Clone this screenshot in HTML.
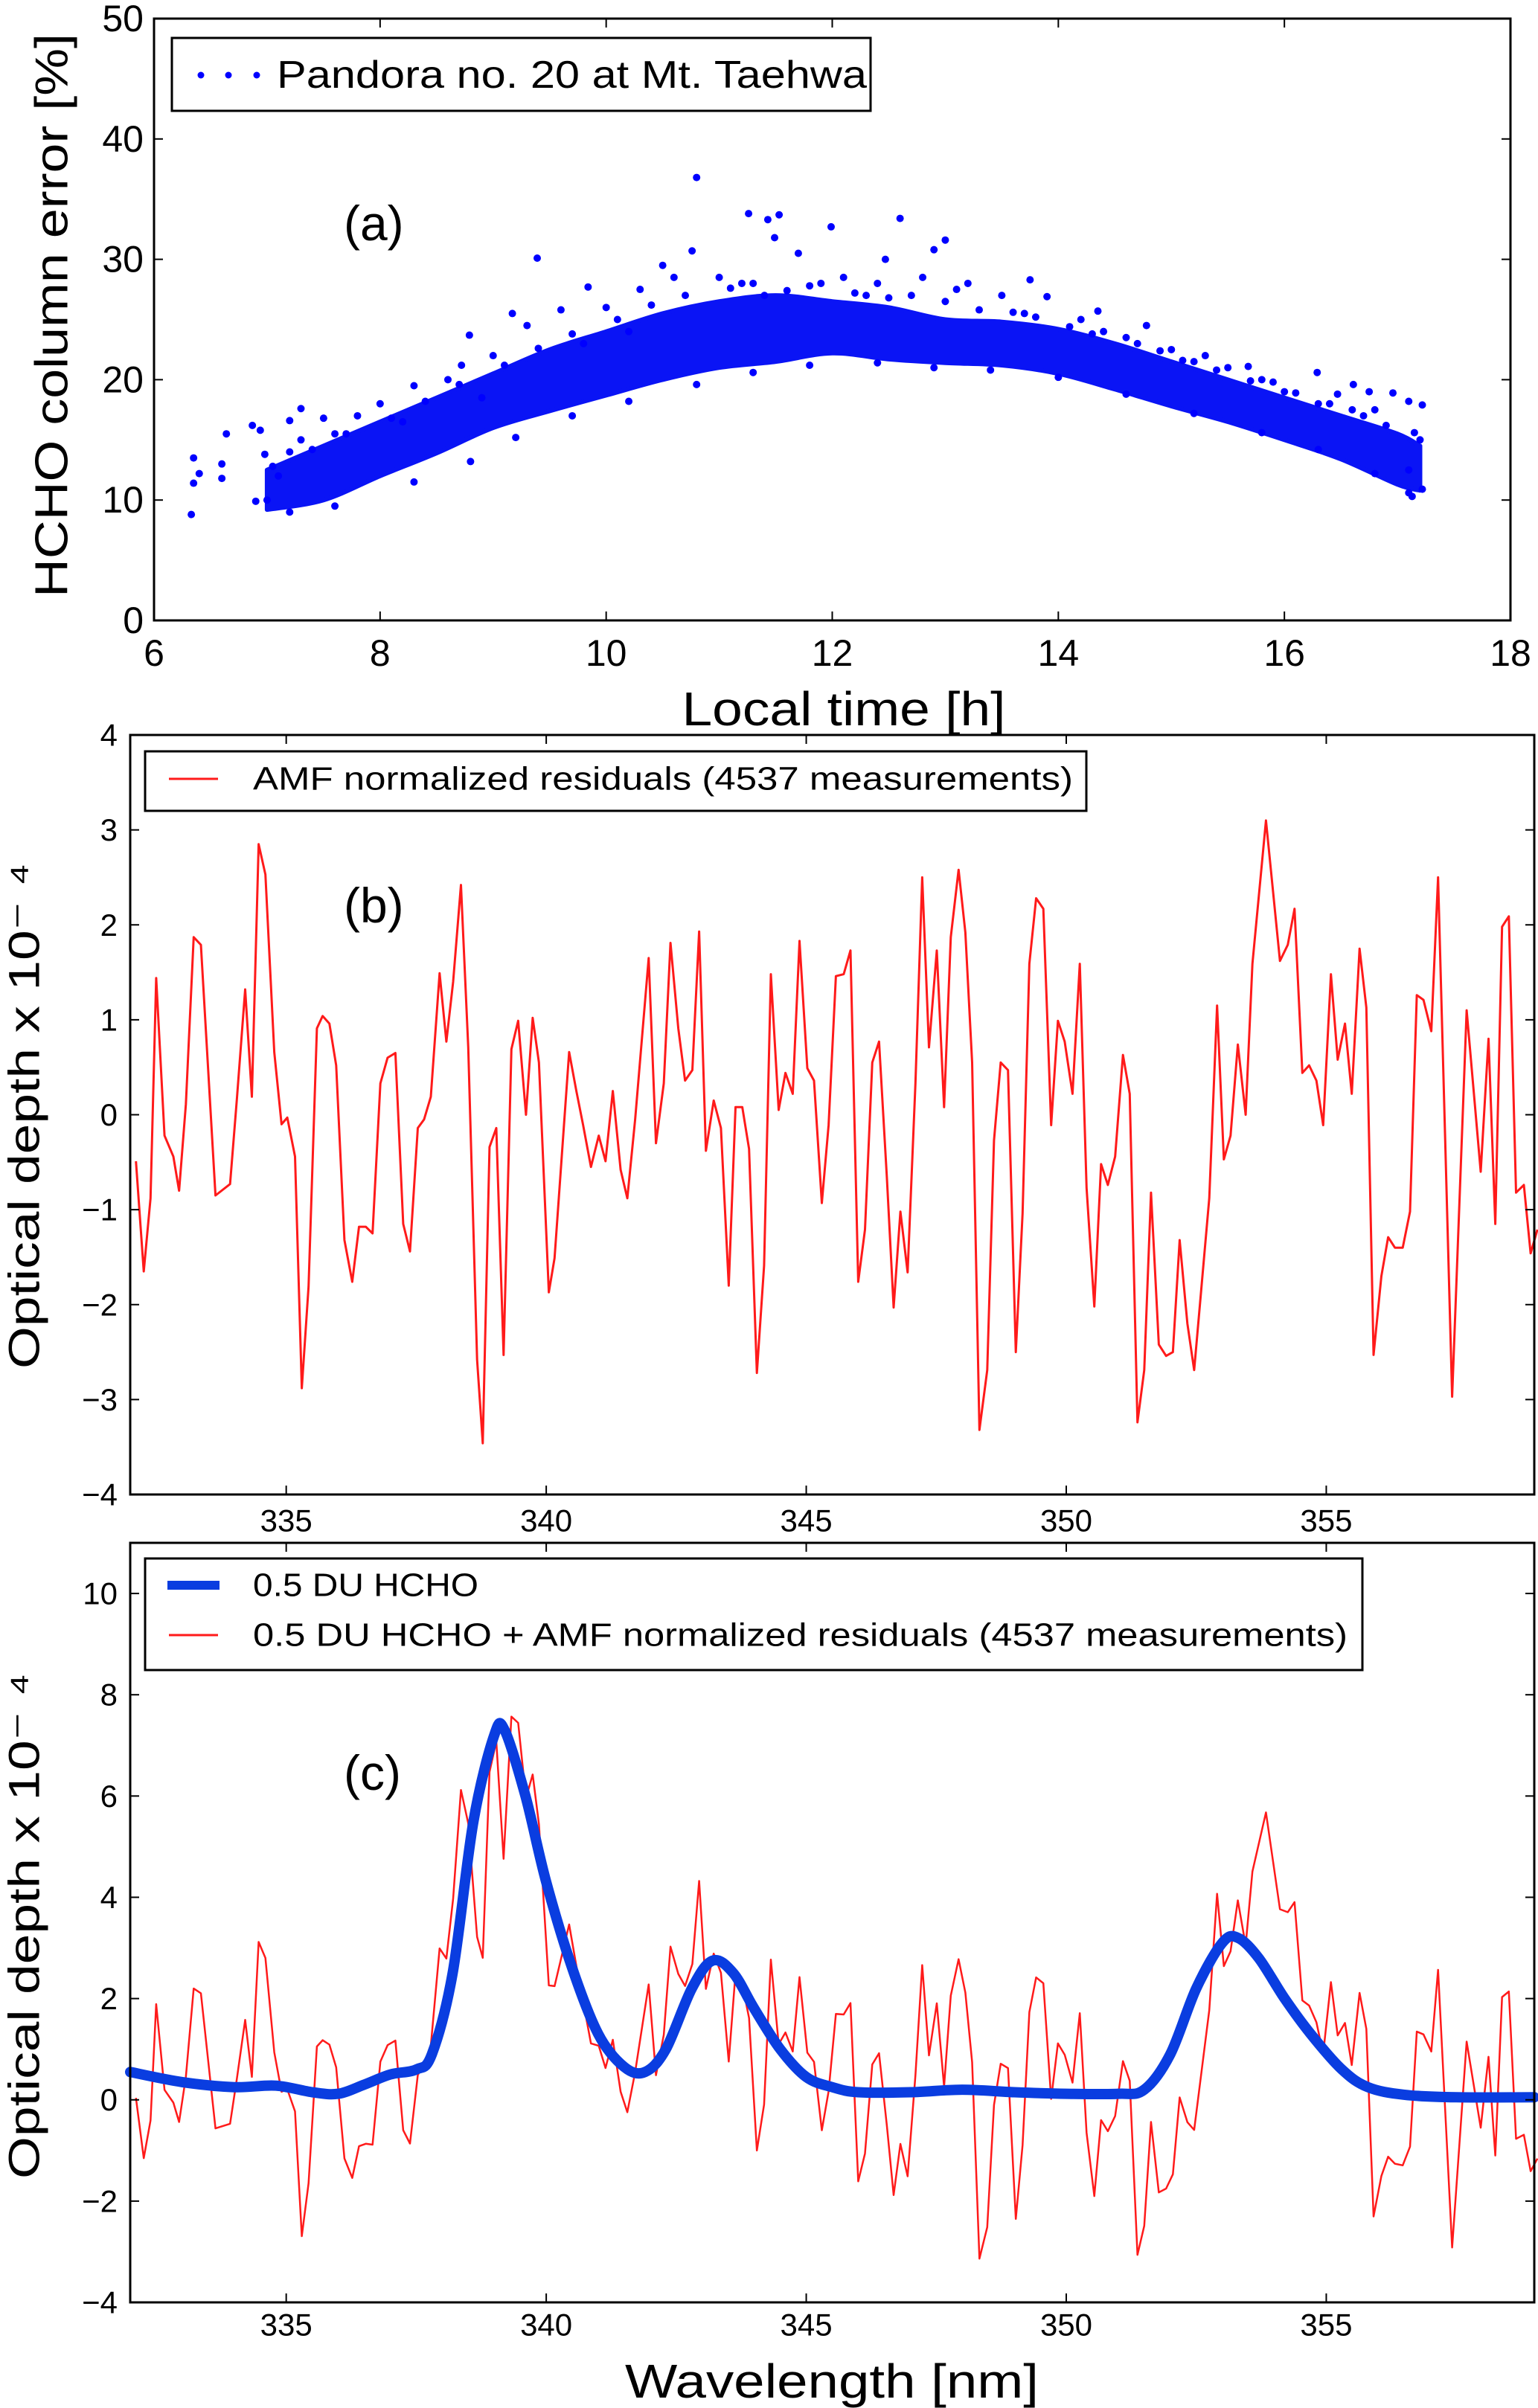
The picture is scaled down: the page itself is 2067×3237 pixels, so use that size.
<!DOCTYPE html>
<html><head><meta charset="utf-8">
<style>
html,body{margin:0;padding:0;background:#fff;}
svg{display:block;font-family:"Liberation Sans",sans-serif;}
</style></head>
<body>
<svg id="fig" width="2067" height="3237" viewBox="0 0 2067 3237" xmlns="http://www.w3.org/2000/svg">
<rect x="0" y="0" width="2067" height="3237" fill="#fff"/>
<g id="pa"></g>
<g id="pb"></g>
<g id="pc"></g>
</svg>
<script>
// ---------- Panel (a) data ----------
const aXTicks = [6, 8, 10, 12, 14, 16, 18];
const aYTicks = [0, 10, 20, 30, 40, 50];
const bandHours = [7.0, 7.5, 8, 8.5, 9, 9.5, 10, 10.5, 11, 11.5, 12, 12.5, 13, 13.5, 14, 14.5, 15, 15.5, 16, 16.5, 17, 17.2];
const bandLower = [9.2, 10.0, 12.0, 13.9, 16.0, 17.4, 18.7, 20.0, 21.0, 21.5, 22.2, 21.7, 21.4, 21.2, 20.5, 19.2, 17.8, 16.5, 15.0, 13.4, 11.3, 10.8];
const bandUpper = [12.5, 14.5, 16.5, 18.5, 20.5, 22.5, 24.0, 25.5, 26.5, 27.0, 26.5, 26.0, 25.0, 24.8, 24.2, 23.0, 21.5, 20.0, 18.5, 17.0, 15.5, 14.5];
const ptHours = [6.33,6.35,6.35,6.4,6.6,6.6,6.64,6.87,6.94,6.98,6.9,7.3,7.2,8.72,8.79,9.39,9.17,9.84,10.8,10.76,11.26,11.53,11.43,11.49,11.99,12.6,12.47,13.0,12.9,13.75,14.35,14.78,15.68,16.29,16.61,16.96,17.22,17.1,17.22,17.13,15.9,16.75,16.47,
 8.0,8.3,8.6,9.0,9.3,9.6,10,10.3,10.5,10.6,11,11.2,11.7,12.1,12.4,12.8,13.2,13.5,13.9,14.2,14.6,15,15.3,15.5,16,16.3,16.8,17.2,7.5,7.8,7.2,7.1,7.0,7.6,8.2,8.9,9.8,10.2,11.4,11.9,12.3,13.1,13.7,14.4,15.2,15.8,16.6,17.1,7.3,7.05,
 7.4,7.7,8.1,8.4,8.7,9.1,9.4,9.7,10.1,10.4,10.7,11.1,11.3,11.6,11.8,12.2,12.5,12.7,13.0,13.3,13.6,13.8,14.1,14.3,14.7,14.9,15.1,15.4,15.7,16.1,16.4,16.7,16.9,17.15,
 7.2,7.6,8.3,8.8,9.2,9.7,10.2,10.8,11.3,11.8,12.4,12.9,13.4,14.0,14.6,15.2,15.8,16.3,16.8,17.1];
const ptErrors = [8.8,13.5,11.4,12.2,11.8,13,15.5,16.2,15.8,13.8,9.9,17.6,16.6,21.2,23.7,30.1,25.5,27.7,36.8,30.7,33.8,33.7,33.3,31.8,32.7,33.4,30,31.6,30.8,28.3,25.7,24.5,21.1,20.6,19.6,18.9,17.9,18.2,10.9,10.3,19.8,19,18.8,
 18,19.5,20,22,24.5,25.8,26,27.5,29.5,28.5,28.5,28,30.5,28.5,28,28.5,28,27,26.9,25,23.5,22.5,22,21,19,18,17.5,15,16.8,17,14,12,10,15.5,16.5,18.5,23,24,27,28,27,27.5,25.5,24,21.5,20,17.5,12.5,15,12.8,
 14.2,15.5,16.8,18.2,19.6,21.2,22.6,23.8,25.0,26.2,27.0,27.6,28.0,27.4,27.8,27.2,26.8,27.0,26.5,25.8,25.6,25.2,24.4,23.8,23.0,22.4,21.6,20.8,19.9,18.9,18.0,17.0,16.2,15.6,
 9.0,9.5,11.5,13.2,15.2,17.0,18.2,19.6,20.6,21.2,21.4,21.0,20.8,20.2,18.8,17.2,15.6,14.2,12.2,10.6];
// ---------- Panel (b)/(c) data ----------
const bXTicks = [335, 340, 345, 350, 355];
const bYTicks = [-4, -3, -2, -1, 0, 1, 2, 3, 4];
const cYTicks = [-4, -2, 0, 2, 4, 6, 8, 10];
const wl = [332.11,332.26,332.39,332.50,332.66,332.83,332.94,333.07,333.22,333.36,333.64,333.92,334.05,334.21,334.34,334.47,334.60,334.77,334.91,335.02,335.17,335.30,335.43,335.59,335.70,335.83,335.96,336.12,336.27,336.40,336.53,336.66,336.81,336.95,337.10,337.25,337.38,337.53,337.65,337.78,337.95,338.08,338.21,338.36,338.50,338.67,338.78,338.91,339.04,339.18,339.33,339.46,339.61,339.74,339.86,340.05,340.16,340.44,340.58,340.71,340.86,341.01,341.14,341.28,341.43,341.56,341.71,341.97,342.11,342.26,342.39,342.54,342.67,342.81,342.94,343.07,343.22,343.36,343.51,343.64,343.77,343.90,344.05,344.19,344.32,344.47,344.60,344.74,344.87,345.02,345.15,345.30,345.43,345.57,345.72,345.85,346.00,346.13,346.27,346.40,346.55,346.68,346.81,346.95,347.10,347.23,347.36,347.51,347.65,347.78,347.93,348.06,348.19,348.33,348.48,348.61,348.74,348.88,349.03,349.16,349.29,349.42,349.56,349.71,349.84,349.97,350.12,350.26,350.39,350.54,350.67,350.80,350.94,351.09,351.22,351.37,351.50,351.63,351.78,351.92,352.05,352.18,352.33,352.46,352.75,352.90,353.03,353.16,353.30,353.45,353.58,353.84,354.11,354.26,354.39,354.54,354.67,354.81,354.94,355.09,355.22,355.36,355.49,355.64,355.77,355.91,356.06,356.19,356.32,356.47,356.61,356.74,356.87,357.02,357.15,357.42,357.70,357.97,358.12,358.25,358.38,358.51,358.65,358.80,358.93,359.06];
const residual = [-0.49,-1.65,-0.88,1.44,-0.22,-0.44,-0.8,0.11,1.87,1.79,-0.85,-0.73,0.16,1.32,0.19,2.85,2.53,0.66,-0.1,-0.03,-0.44,-2.88,-1.81,0.91,1.04,0.96,0.52,-1.32,-1.76,-1.18,-1.18,-1.25,0.33,0.6,0.65,-1.15,-1.44,-0.14,-0.05,0.19,1.49,0.77,1.4,2.42,0.71,-2.58,-3.46,-0.34,-0.14,-2.53,0.69,0.99,0,1.02,0.55,-1.87,-1.51,0.66,0.25,-0.11,-0.55,-0.22,-0.49,0.25,-0.58,-0.88,-0.05,1.65,-0.3,0.33,1.81,0.91,0.36,0.47,1.93,-0.38,0.15,-0.14,-1.8,0.08,0.08,-0.36,-2.72,-1.59,1.48,0.05,0.44,0.22,1.83,0.49,0.36,-0.93,-0.11,1.46,1.48,1.73,-1.76,-1.21,0.55,0.77,-0.66,-2.03,-1.02,-1.66,0.33,2.5,0.71,1.73,0.08,1.87,2.58,1.92,0.55,-3.32,-2.69,-0.27,0.55,0.47,-2.5,-1.04,1.59,2.28,2.17,-0.11,0.99,0.77,0.22,1.59,-0.77,-2.02,-0.52,-0.74,-0.44,0.63,0.22,-3.24,-2.69,-0.82,-2.42,-2.54,-2.5,-1.32,-2.2,-2.69,-0.88,1.15,-0.47,-0.22,0.74,0,1.59,3.1,1.62,1.79,2.17,0.44,0.52,0.36,-0.11,1.48,0.58,0.96,0.22,1.75,1.13,-2.53,-1.7,-1.29,-1.4,-1.4,-1.02,1.26,1.21,0.88,2.5,-2.97,1.1,-0.6,0.8,-1.15,1.98,2.09,-0.82,-0.74,-1.46,-1.21];
const hchoWl = [332.0,333,334,334.8,335.5,336,336.5,337,337.5,337.8,338.2,338.6,339.0,339.2,339.6,340.0,340.5,341.0,341.5,341.9,342.3,342.8,343.2,343.6,344.0,344.5,345.0,345.5,346,347,348,349,350,351,351.5,352,352.5,353.0,353.3,353.7,354.2,354.7,355.3,355.8,356.5,357.5,359];
const hchoOD = [0.55,0.35,0.25,0.28,0.15,0.12,0.3,0.5,0.6,0.9,2.5,5.5,7.2,7.3,6.0,4.3,2.6,1.3,0.65,0.55,1.0,2.2,2.75,2.5,1.8,1.0,0.45,0.25,0.15,0.15,0.2,0.15,0.12,0.12,0.2,0.9,2.2,3.1,3.2,2.8,2.0,1.3,0.6,0.25,0.1,0.05,0.05];

const NS = "http://www.w3.org/2000/svg";
function mk(parent, tag, attrs, text) {
  const e = document.createElementNS(NS, tag);
  for (const k in attrs) e.setAttribute(k, attrs[k]);
  if (text !== undefined) e.textContent = text;
  parent.appendChild(e);
  return e;
}
function lin(d0, d1, r0, r1) { return v => r0 + (v - d0) / (d1 - d0) * (r1 - r0); }
function interp(xs, ys, x) {
  if (x <= xs[0]) return ys[0];
  for (let i = 1; i < xs.length; i++) if (x <= xs[i]) { const t = (x - xs[i-1]) / (xs[i] - xs[i-1]); return ys[i-1] + t * (ys[i] - ys[i-1]); }
  return ys[ys.length - 1];
}
function smoothSeg(P, start) {
  let d = start ? 'M' + P[0][0].toFixed(1) + ',' + P[0][1].toFixed(1) : 'L' + P[0][0].toFixed(1) + ',' + P[0][1].toFixed(1);
  for (let i = 0; i < P.length - 1; i++) {
    const p0 = P[i-1] || P[i], p1 = P[i], p2 = P[i+1], p3 = P[i+2] || p2;
    const c1 = [p1[0] + (p2[0]-p0[0])/6, p1[1] + (p2[1]-p0[1])/6];
    const c2 = [p2[0] - (p3[0]-p1[0])/6, p2[1] - (p3[1]-p1[1])/6];
    d += 'C' + c1[0].toFixed(1) + ',' + c1[1].toFixed(1) + ' ' + c2[0].toFixed(1) + ',' + c2[1].toFixed(1) + ' ' + p2[0].toFixed(1) + ',' + p2[1].toFixed(1);
  }
  return d;
}
function frame(g, L, T, R, B, xt, yt, sx, sy, tickFont, xLabY, yLabX, yFmt) {
  const ax = mk(g, 'rect', {x: L, y: T, width: R - L, height: B - T, fill: 'none', stroke: '#000', 'stroke-width': 3});
  
  
  xt.forEach(v => {
    const x = sx(v);
    if (x > L + 2 && x < R - 2) {
      const t1 = mk(g, 'line', {x1: x, y1: B, x2: x, y2: B - 12, stroke: '#000', 'stroke-width': 2});
      
      
      mk(g, 'line', {x1: x, y1: T, x2: x, y2: T + 12, stroke: '#000', 'stroke-width': 2});
    }
    const tl = mk(g, 'text', {x: x, y: xLabY, 'text-anchor': 'middle', 'dominant-baseline': 'central', 'font-size': tickFont, fill: '#000'}, String(v));
    
    
  });
  yt.forEach(v => {
    const y = sy(v);
    if (y > T + 2 && y < B - 2) {
      const t2 = mk(g, 'line', {x1: L, y1: y, x2: L + 12, y2: y, stroke: '#000', 'stroke-width': 2});
      
      
      mk(g, 'line', {x1: R, y1: y, x2: R - 12, y2: y, stroke: '#000', 'stroke-width': 2});
    }
    const tl = mk(g, 'text', {x: yLabX, y: y, 'text-anchor': 'end', 'dominant-baseline': 'central', 'font-size': tickFont, fill: '#000'}, yFmt ? yFmt(v) : String(v));
    
    
  });
}
const minus = v => v < 0 ? '\u2212' + Math.abs(v) : String(v);

// ---------- Panel (a) ----------
(function(){
  const g = document.getElementById('pa');
  const L = 207, R = 2030, T = 25, B = 834;
  const sx = lin(6, 18, L, R), sy = lin(0, 50, B, T);
  const lowP = bandHours.map((h, i) => [sx(h), sy(bandLower[i])]);
  const upP = bandHours.map((h, i) => [sx(h), sy(bandUpper[i])]).reverse();
  const d = smoothSeg(lowP, true) + smoothSeg(upP, false) + 'Z';
  const band = mk(g, 'path', {d: d, fill: '#0a14f5', stroke: '#0a14f5', 'stroke-width': 6, 'stroke-linejoin': 'round'});
  
  
  ptHours.forEach((h, i) => {
    const c = mk(g, 'circle', {cx: sx(h), cy: sy(ptErrors[i]), r: 5, fill: '#0000ff'});
    
    
  });
  frame(g, L, T, R, B, aXTicks, aYTicks, sx, sy, 50, 878, 193);
  const lg = mk(g, 'g', {});
  
  
  mk(lg, 'rect', {x: 231, y: 51, width: 939, height: 98, fill: '#fff', stroke: '#000', 'stroke-width': 3});
  [270, 307, 345].forEach(x => mk(lg, 'circle', {cx: x, cy: 101, r: 4.5, fill: '#0000ff'}));
  const lt = mk(lg, 'text', {x: 372, y: 101, 'dominant-baseline': 'central', 'font-size': 52, textLength: 793, lengthAdjust: 'spacingAndGlyphs'}, 'Pandora no. 20 at Mt. Taehwa');
  
  
  const pl = mk(g, 'text', {x: 462, y: 300, 'dominant-baseline': 'central', 'font-size': 66}, '(a)');
  
  
  const xl = mk(g, 'text', {x: 1134, y: 953, 'text-anchor': 'middle', 'dominant-baseline': 'central', 'font-size': 64, textLength: 435, lengthAdjust: 'spacingAndGlyphs'}, 'Local time [h]');
  
  
  const yl = mk(g, 'text', {x: 0, y: 0, transform: 'translate(70,424) rotate(-90)', 'text-anchor': 'middle', 'dominant-baseline': 'central', 'font-size': 62, textLength: 758, lengthAdjust: 'spacingAndGlyphs'}, 'HCHO column error [%]');
  
  
})();

// ---------- Panel (b) ----------
(function(){
  const g = document.getElementById('pb');
  const L = 175, R = 2062, T = 988, B = 2009;
  const sx = lin(332, 359, L, R), sy = lin(-4, 4, B, T);
  const pts = wl.map((w, i) => sx(w).toFixed(1) + ',' + sy(residual[i]).toFixed(1)).join(' ');
  const ln = mk(g, 'polyline', {points: pts, fill: 'none', stroke: '#ff1a1a', 'stroke-width': 3, 'stroke-linejoin': 'round'});
  
  
  frame(g, L, T, R, B, bXTicks, bYTicks, sx, sy, 42, 2044, 158, minus);
  const lg = mk(g, 'g', {});
  
  
  mk(lg, 'rect', {x: 195, y: 1010, width: 1265, height: 80, fill: '#fff', stroke: '#000', 'stroke-width': 3});
  mk(lg, 'line', {x1: 227, y1: 1047, x2: 293, y2: 1047, stroke: '#ff1a1a', 'stroke-width': 3});
  const lt = mk(lg, 'text', {x: 340, y: 1047, 'dominant-baseline': 'central', 'font-size': 44, textLength: 1102, lengthAdjust: 'spacingAndGlyphs'}, 'AMF normalized residuals (4537 measurements)');
  
  
  const pl = mk(g, 'text', {x: 462, y: 1217, 'dominant-baseline': 'central', 'font-size': 66}, '(b)');
  
  
  const yl = mk(g, 'text', {x: 0, y: 0, transform: 'translate(33,1500) rotate(-90)', 'text-anchor': 'middle', 'dominant-baseline': 'central', 'font-size': 58, textLength: 680, lengthAdjust: 'spacingAndGlyphs'}, 'Optical depth x 10\u207B \u2074');
  
  
})();

// ---------- Panel (c) ----------
(function(){
  const g = document.getElementById('pc');
  const L = 175, R = 2062, T = 2074, B = 3095;
  const sx = lin(332, 359, L, R), sy = lin(-4, 11, B, T);
  const redPts = wl.map((w, i) => sx(w).toFixed(1) + ',' + sy(interp(hchoWl, hchoOD, w) + residual[i]).toFixed(1)).join(' ');
  const rl = mk(g, 'polyline', {points: redPts, fill: 'none', stroke: '#ff1a1a', 'stroke-width': 2.5, 'stroke-linejoin': 'round'});
  
  
  const BP = hchoWl.map((w, i) => [sx(w), sy(hchoOD[i])]);
  const bl = mk(g, 'path', {d: smoothSeg(BP, true), fill: 'none', stroke: '#0a3de0', 'stroke-width': 14, 'stroke-linejoin': 'round', 'stroke-linecap': 'round'});
  
  
  frame(g, L, T, R, B, bXTicks, cYTicks, sx, sy, 42, 3125, 158, minus);
  const lg = mk(g, 'g', {});
  
  
  mk(lg, 'rect', {x: 195, y: 2095, width: 1636, height: 150, fill: '#fff', stroke: '#000', 'stroke-width': 3});
  mk(lg, 'line', {x1: 225, y1: 2131, x2: 295, y2: 2131, stroke: '#0a3de0', 'stroke-width': 12});
  mk(lg, 'line', {x1: 227, y1: 2198, x2: 293, y2: 2198, stroke: '#ff1a1a', 'stroke-width': 3});
  const l1 = mk(lg, 'text', {x: 340, y: 2131, 'dominant-baseline': 'central', 'font-size': 44, textLength: 303, lengthAdjust: 'spacingAndGlyphs'}, '0.5 DU HCHO');
  
  
  const l2 = mk(lg, 'text', {x: 340, y: 2198, 'dominant-baseline': 'central', 'font-size': 44, textLength: 1471, lengthAdjust: 'spacingAndGlyphs'}, '0.5 DU HCHO + AMF normalized residuals (4537 measurements)');
  
  
  const pl = mk(g, 'text', {x: 462, y: 2383, 'dominant-baseline': 'central', 'font-size': 66}, '(c)');
  
  
  const xl = mk(g, 'text', {x: 1118, y: 3201, 'text-anchor': 'middle', 'dominant-baseline': 'central', 'font-size': 64, textLength: 556, lengthAdjust: 'spacingAndGlyphs'}, 'Wavelength [nm]');
  
  
  const yl = mk(g, 'text', {x: 0, y: 0, transform: 'translate(33,2589) rotate(-90)', 'text-anchor': 'middle', 'dominant-baseline': 'central', 'font-size': 58, textLength: 680, lengthAdjust: 'spacingAndGlyphs'}, 'Optical depth x 10\u207B \u2074');
  
  
})();
</script>
</body></html>
